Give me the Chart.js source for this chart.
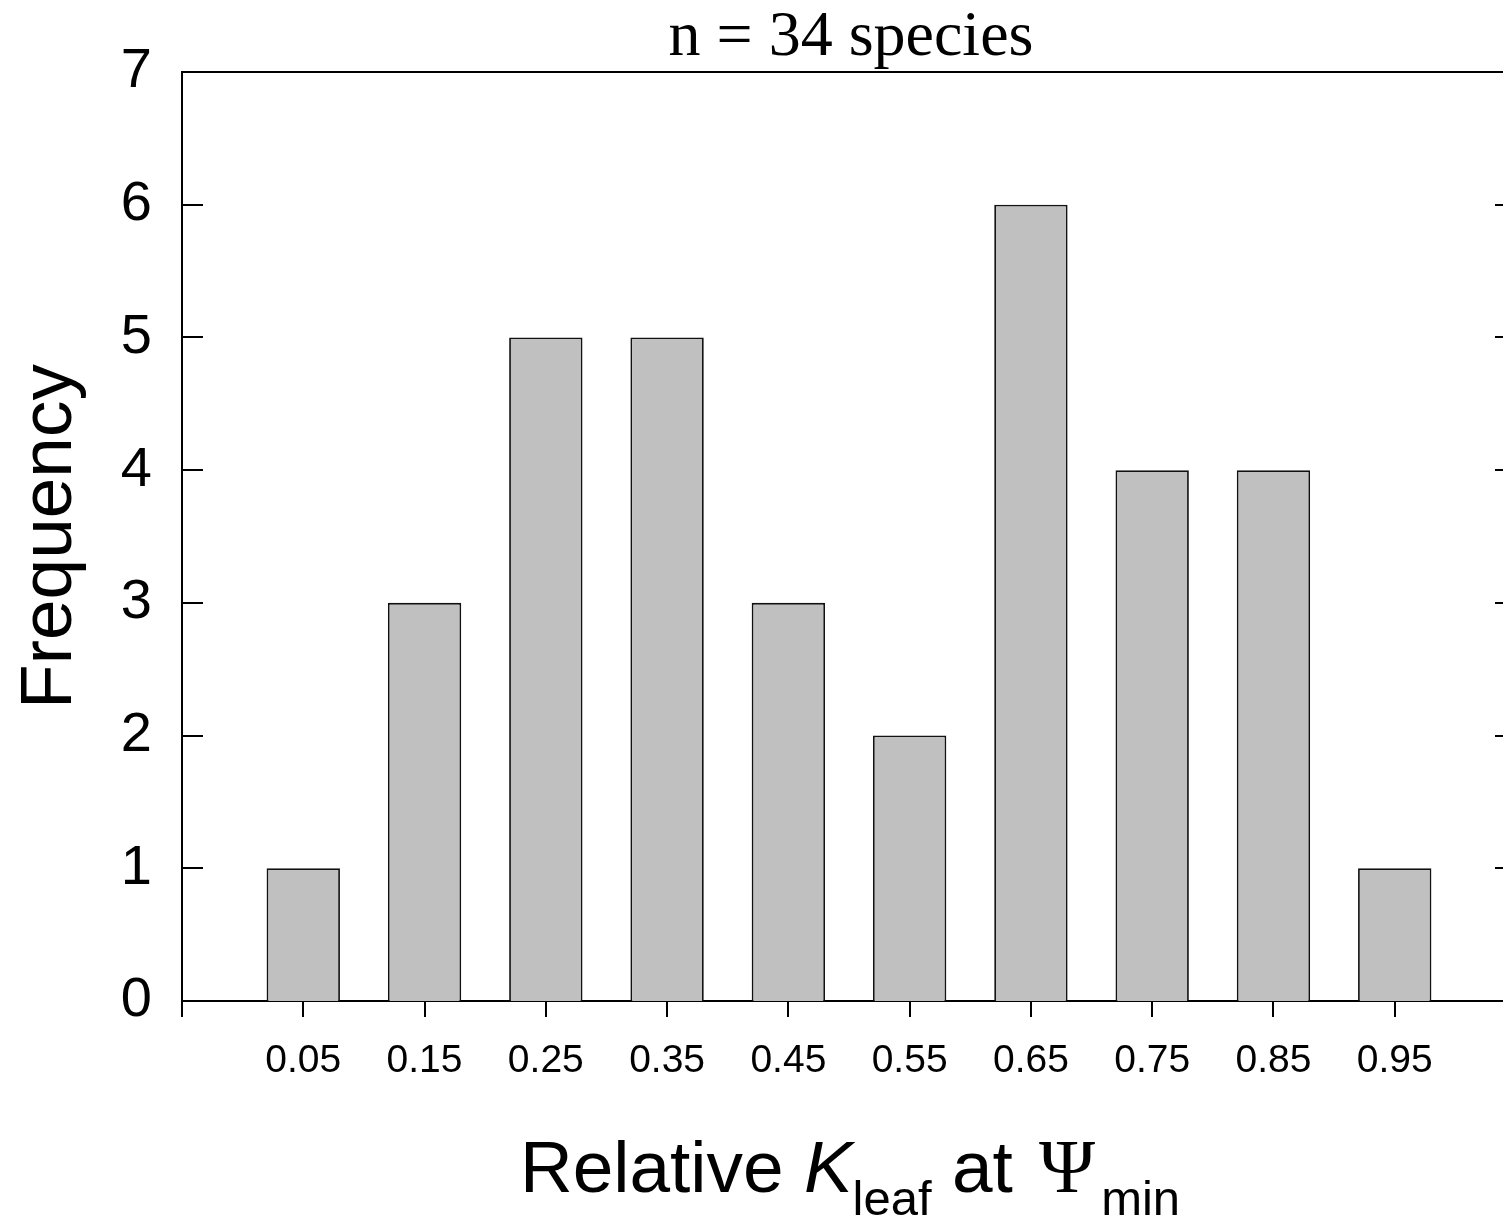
<!DOCTYPE html>
<html>
<head>
<meta charset="utf-8">
<script src="https://cdn.jsdelivr.net/npm/chart.js@4.4.1/dist/chart.umd.min.js"></script>
<style>
html, body { margin: 0; padding: 0; background: #fff; width: 1503px; height: 1221px; overflow: hidden; }
#wrap { position: absolute; left: 0; top: 0; width: 1537px; height: 1221px; }
canvas { display: block; }
</style>
</head>
<body>
<div id="wrap"><canvas id="c" width="1537" height="1221" style="width:1537px;height:1221px"></canvas></div>
<script>
// ---- data ----
const binCenters = [0.05, 0.15, 0.25, 0.35, 0.45, 0.55, 0.65, 0.75, 0.85, 0.95];
const frequencies = [1, 3, 5, 5, 3, 2, 6, 4, 4, 1];
const xTickValues = [0.05, 0.15, 0.25, 0.35, 0.45, 0.55, 0.65, 0.75, 0.85, 0.95];
const xTickLabels = ['0.05', '0.15', '0.25', '0.35', '0.45', '0.55', '0.65', '0.75', '0.85', '0.95'];
const yTickValues = [0, 1, 2, 3, 4, 5, 6, 7];
const yTickLabels = ['0', '1', '2', '3', '4', '5', '6', '7'];
const xMin = -0.05, xMax = 1.05;
const yMin = 0, yMax = 7;
const titleText = 'n = 34 species';
const yTitleText = 'Frequency';
const xTitleParts = [
  { t: 'Relative ', kind: 'main' },
  { t: 'K', kind: 'italic' },
  { t: 'leaf', kind: 'sub' },
  { t: ' at ', kind: 'main' },
  { t: '\u03A8', kind: 'serif' },
  { t: 'min', kind: 'sub' }
];

const SANS = '"Liberation Sans", Arial, Helvetica, sans-serif';
const SERIF = '"Liberation Serif", "Times New Roman", serif';

const framePlugin = {
  id: 'framePlugin',
  afterDraw(chart) {
    const ctx = chart.ctx;
    const { left, top, right, bottom } = chart.chartArea;
    const ys = chart.scales.y;
    ctx.save();
    ctx.strokeStyle = '#000';
    ctx.lineWidth = 2;
    ctx.beginPath();
    const t = Math.round(top), r = Math.round(right), l = Math.round(left), b = Math.round(bottom);
    ctx.moveTo(l - 1, t);
    ctx.lineTo(r, t);
    ctx.lineTo(r, b);
    yTickValues.forEach(v => {
      if (v === yMin || v === yMax) return;
      const py = Math.round(ys.getPixelForValue(v));
      ctx.moveTo(l, py); ctx.lineTo(l + 21, py);
      ctx.moveTo(r, py); ctx.lineTo(r - 21, py);
    });
    ctx.stroke();

    // top title
    ctx.fillStyle = '#000';
    ctx.font = '64px ' + SERIF;
    ctx.textAlign = 'center';
    ctx.textBaseline = 'alphabetic';
    ctx.fillText(titleText, 851, 55);

    // y title
    ctx.save();
    ctx.translate(71, (top + bottom) / 2);
    ctx.rotate(-Math.PI / 2);
    ctx.font = '73px ' + SANS;
    ctx.textAlign = 'center';
    ctx.fillText(yTitleText, 0, 0);
    ctx.restore();

    // x title
    const fonts = {
      main: '73px ' + SANS,
      italic: 'italic 73px ' + SANS,
      sub: '49px ' + SANS,
      serif: '76px ' + SERIF
    };
    const dys = { main: 0, italic: 0, sub: 23, serif: 0 };
    ctx.textAlign = 'left';
    let total = 0;
    const widths = xTitleParts.map(p => { ctx.font = fonts[p.kind]; const w = ctx.measureText(p.t).width; total += w; return w; });
    total += 12;
    let x = 850 - total / 2;
    const base = 1192;
    xTitleParts.forEach((p, i) => {
      ctx.font = fonts[p.kind];
      if (p.kind === 'serif') x += 6;
      if (p.t === 'min') x += 6;
      ctx.fillText(p.t, x, base + dys[p.kind]);
      x += widths[i];
    });
    ctx.restore();
  }
};

new Chart(document.getElementById('c'), {
  type: 'bar',
  data: {
    datasets: [{
      data: binCenters.map((c, i) => ({ x: c, y: frequencies[i] })),
      backgroundColor: '#c0c0c0',
      borderColor: '#111',
      borderWidth: 1.8,
      categoryPercentage: 1.0,
      barPercentage: 0.605
    }]
  },
  options: {
    responsive: false,
    animation: false,
    devicePixelRatio: 1,
    layout: { padding: { top: 72, right: 0, left: 0, bottom: 0 } },
    plugins: { legend: { display: false }, tooltip: { enabled: false }, title: { display: false } },
    scales: {
      x: {
        type: 'linear',
        min: xMin,
        max: xMax,
        offset: false,
        afterBuildTicks(scale) {
          scale.ticks = [xMin, ...xTickValues, xMax].map(v => ({ value: v }));
        },
        afterFit(scale) { scale.height = 220; },
        grid: { display: true, drawOnChartArea: false, drawTicks: true, tickLength: 16, color: '#000', lineWidth: 2, offset: false },
        border: { display: true, color: '#000', width: 2 },
        ticks: {
          autoSkip: false,
          maxRotation: 0,
          padding: 21,
          color: '#000',
          font: { family: SANS, size: 39 },
          callback(value) {
            const i = xTickValues.findIndex(t => Math.abs(t - value) < 1e-9);
            return i >= 0 ? xTickLabels[i] : '';
          }
        }
      },
      y: {
        type: 'linear',
        min: yMin,
        max: yMax,
        afterBuildTicks(scale) {
          scale.ticks = yTickValues.map(v => ({ value: v }));
        },
        afterFit(scale) { scale.width = 182; },
        grid: { display: false, drawTicks: false },
        border: { display: true, color: '#000', width: 2 },
        ticks: {
          padding: 30,
          color: '#000',
          font: { family: SANS, size: 56 },
          callback(value) {
            const i = yTickValues.indexOf(value);
            return i >= 0 ? yTickLabels[i] : '';
          }
        }
      }
    }
  },
  plugins: [framePlugin]
});
</script>
</body>
</html>
